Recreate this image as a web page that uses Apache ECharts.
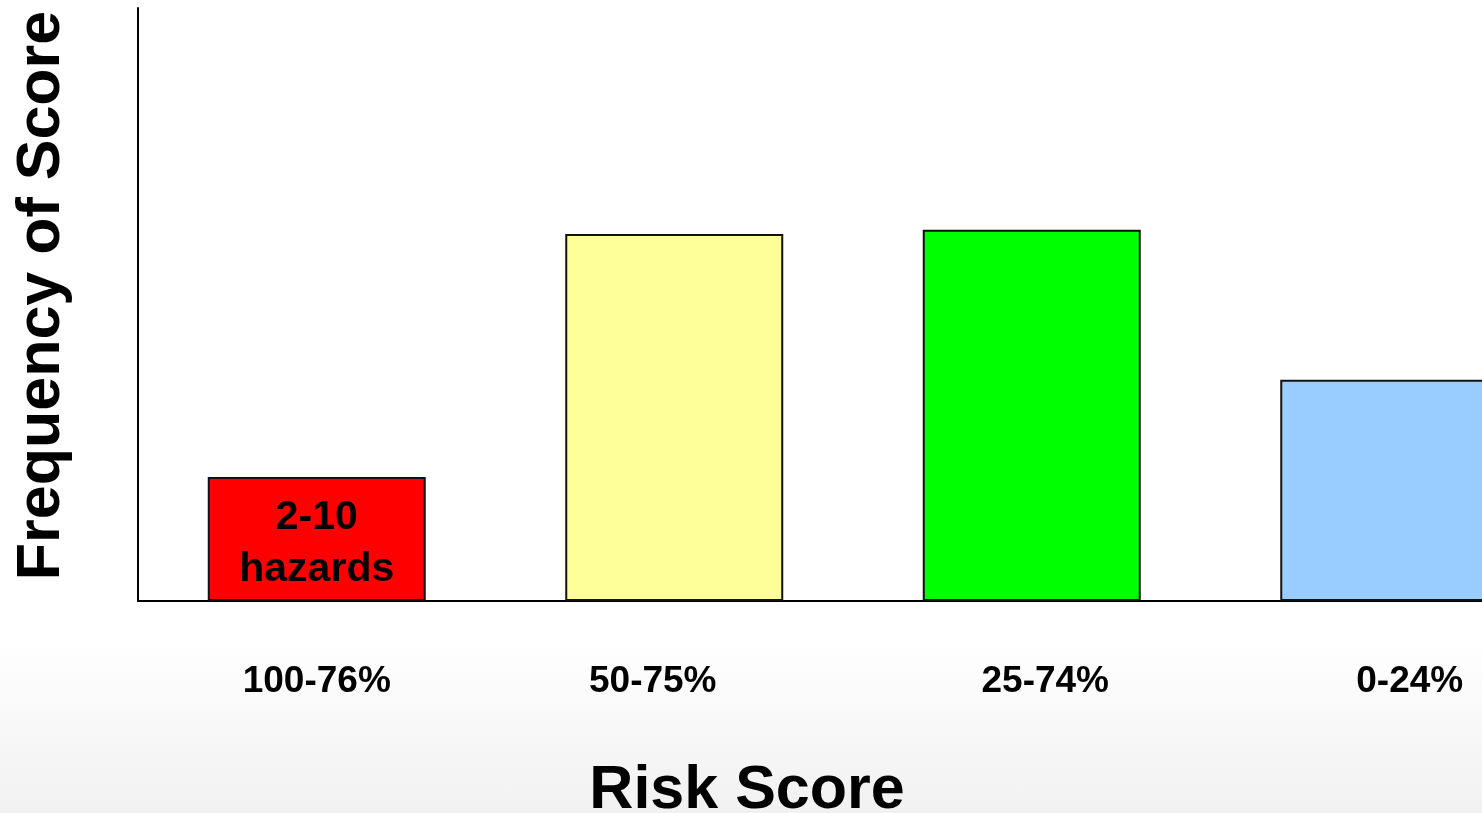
<!DOCTYPE html>
<html>
<head>
<meta charset="utf-8">
<script src="https://cdn.jsdelivr.net/npm/echarts@6/dist/echarts.min.js"></script>
<style>
  html, body { margin: 0; padding: 0; }
  body { background: linear-gradient(to bottom, #ffffff 0px, #ffffff 640px, #f1f1f1 813px); }
  #main { width: 1482px; height: 813px; }
</style>
</head>
<body>
<div id="main"></div>
<script>
// risk score buckets and how often each score shows up
const categories = ['100-76%', '50-75%', '25-74%', '0-24%'];
const frequency = [20.9, 61.9, 62.6, 37.3];
const barColors = ['#ff0000', '#ffff99', '#00ff00', '#99ccff'];
const barNotes = ['2-10\nhazards', '', '', ''];

const myChart = echarts.init(document.getElementById('main'));

const option = {
    backgroundColor: 'transparent',
    animation: false,
    textStyle: { fontFamily: 'Liberation Sans, Arial, sans-serif' },
    grid: {
        left: 138,
        right: -86,
        top: 8,
        bottom: 212,
        containLabel: false,
        outerBoundsMode: 'none'
    },
    xAxis: {
        type: 'category',
        data: categories.map((c, i) => {
            // nudge labels to where they sit in the original
            const pad = [[0, 0, 0, 0], [0, 43, 0, 0], [0, 0, 0, 27], [0, 0, 0, 41]][i];
            return { value: c, textStyle: { padding: pad } };
        }),
        name: 'Risk Score',
        nameLocation: 'middle',
        nameGap: 160,
        nameTextStyle: {
            fontSize: 61,
            fontWeight: 'bold',
            color: '#000',
            padding: [0, 212, 0, 0]
        },
        axisLine: { show: true, lineStyle: { color: '#000', width: 2 } },
        axisTick: { show: false },
        axisLabel: {
            margin: 62,
            fontSize: 37,
            fontWeight: 'bold',
            color: '#000'
        }
    },
    yAxis: {
        type: 'value',
        min: 0,
        max: 100,
        name: 'Frequency of Score',
        nameLocation: 'middle',
        nameGap: 65,
        nameTextStyle: {
            fontSize: 61,
            fontWeight: 'bold',
            color: '#000',
            padding: [0, 0, 0, 18]
        },
        axisLine: { show: true, lineStyle: { color: '#000', width: 2 } },
        axisTick: { show: false },
        axisLabel: { show: false },
        splitLine: { show: false }
    },
    series: [
        {
            type: 'bar',
            barWidth: 218,
            data: frequency.map((v, i) => ({
                value: v,
                itemStyle: { color: barColors[i] },
                label: {
                    show: barNotes[i] !== '',
                    formatter: barNotes[i]
                }
            })),
            itemStyle: {
                borderColor: '#111',
                borderWidth: 2
            },
            label: {
                position: 'inside',
                offset: [0, 5],
                fontSize: 41,
                fontWeight: 'bold',
                color: '#000',
                lineHeight: 52
            }
        }
    ]
};

myChart.setOption(option);
window.addEventListener('resize', () => {
    myChart.resize();
});
</script>
</body>
</html>
